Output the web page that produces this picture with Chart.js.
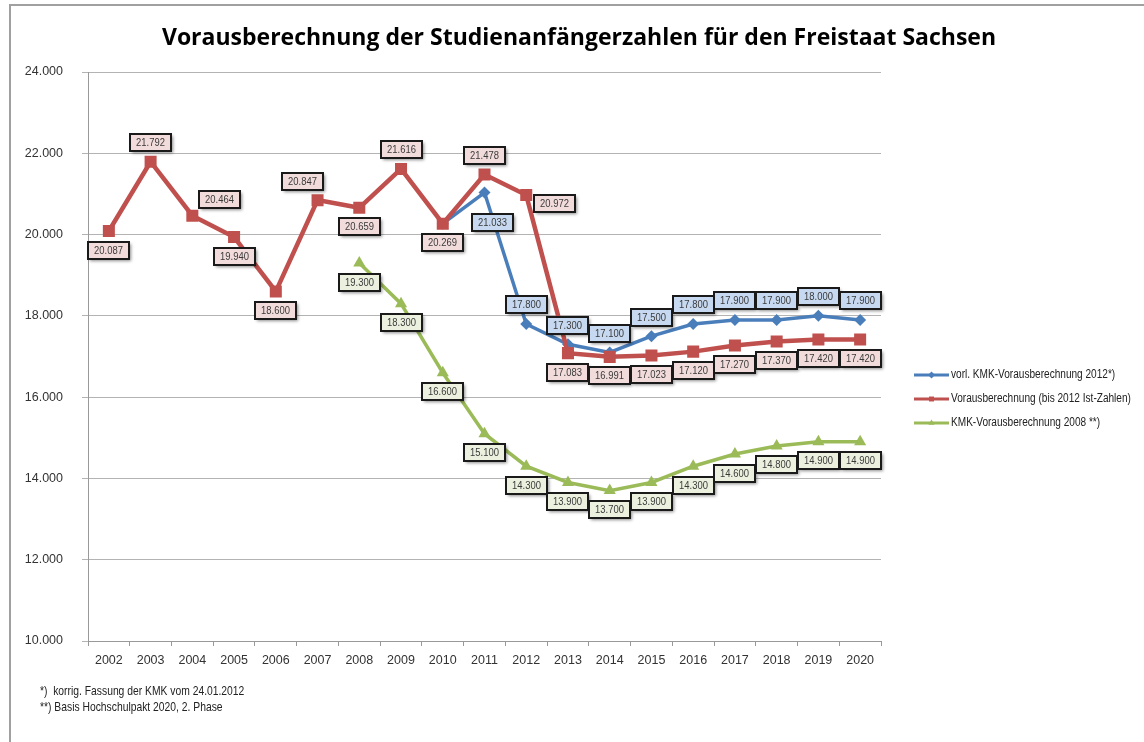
<!DOCTYPE html>
<html>
<head>
<meta charset="utf-8">
<script src="https://cdn.jsdelivr.net/npm/chart.js@4.4.1/dist/chart.umd.min.js"></script>
<style>
  html, body { margin: 0; padding: 0; background: #fff; }
  #wrap { width: 1144px; height: 742px; position: relative; }
</style>
</head>
<body>
<div id="wrap"><canvas id="c" width="1144" height="742"></canvas></div>
<script>
// ---- data ----
const years = ['2002','2003','2004','2005','2006','2007','2008','2009','2010','2011','2012','2013','2014','2015','2016','2017','2018','2019','2020'];
const kmk2012 = [null, null, null, null, null, null, null, null, 20269, 21033, 17800, 17300, 17100, 17500, 17800, 17900, 17900, 18000, 17900];
const istZahlen = [20087, 21792, 20464, 19940, 18600, 20847, 20659, 21616, 20269, 21478, 20972, 17083, 16991, 17023, 17120, 17270, 17370, 17420, 17420];
const kmk2008 = [null, null, null, null, null, null, 19300, 18300, 16600, 15100, 14300, 13900, 13700, 13900, 14300, 14600, 14800, 14900, 14900];
const yTickValues = [10000, 12000, 14000, 16000, 18000, 20000, 22000, 24000];
const seriesNames = ['vorl. KMK-Vorausberechnung 2012*)', 'Vorausberechnung (bis 2012 Ist-Zahlen)', 'KMK-Vorausberechnung 2008 **)'];
const chartTitle = 'Vorausberechnung der Studienanfängerzahlen für den Freistaat Sachsen';
const footnotes = ['*)  korrig. Fassung der KMK vom 24.01.2012', '**) Basis Hochschulpakt 2020, 2. Phase'];

// ---- label placement (layout only) ----
const bluePlacement  = [null,null,null,null,null,null,null,null,null,'bb','t','t','t','t','t','t','t','t','t'];
const redPlacement   = ['b','t','tr','b','b','tl','b','t','b','t','r','b','b','b','b','b','b','b','b'];
const greenPlacement = [null,null,null,null,null,null,'b','b','b','b','b','b','b','b','b','b','b','b','b'];
const OFFSETS = { b: [0, 19], t: [0, -19], tr: [27, -16], tl: [-15, -19], r: [28, 8], bb: [8, 30] };

const fmt = v => String(Math.round(v)).replace(/\B(?=(\d{3})+(?!\d))/g, '.');

const SANS = '"Liberation Sans", Arial, sans-serif';
const SQUEEZE = 0.82;

function narrowText(ctx, text, x, y, align, size) {
  ctx.save();
  ctx.font = size + 'px ' + SANS;
  ctx.textBaseline = 'middle';
  ctx.textAlign = align;
  ctx.translate(x, y);
  ctx.scale(SQUEEZE, 1);
  ctx.fillText(text, 0, 0);
  ctx.restore();
}

const COLORS = {
  blue: '#4a7ebb', red: '#c0504d', green: '#9bbb59',
  blueFill: '#c6d9f1', redFill: '#f2dcdb', greenFill: '#ebf1de'
};

const decorPlugin = {
  id: 'decor',
  beforeDraw(chart) {
    const ctx = chart.ctx;
    ctx.save();
    ctx.fillStyle = '#fff';
    ctx.fillRect(0, 0, chart.width, chart.height);
    // frame
    ctx.strokeStyle = '#a0a0a0';
    ctx.lineWidth = 2;
    ctx.beginPath();
    ctx.moveTo(10, 760);
    ctx.lineTo(10, 5);
    ctx.lineTo(1160, 5);
    ctx.stroke();
    // title
    ctx.fillStyle = '#000';
    ctx.font = 'bold 23px "Open Sans", sans-serif';
    ctx.textAlign = 'center';
    ctx.textBaseline = 'alphabetic';
    ctx.fillText(chartTitle, 579, 45);
    // footnotes
    ctx.fillStyle = '#222';
    narrowText(ctx, footnotes[0], 40, 692, 'left', 12.6);
    narrowText(ctx, footnotes[1], 40, 708, 'left', 12.6);
    ctx.restore();
  },
  afterDatasetsDraw(chart) {
    const ctx = chart.ctx;
    ctx.save();
    chart.data.datasets.forEach((ds, i) => {
      const meta = chart.getDatasetMeta(i);
      meta.data.forEach((pt, j) => {
        const v = ds.data[j];
        const pl = ds.labelPlacement[j];
        if (v == null || !pl) return;
        const off = OFFSETS[pl];
        const cx = pt.x + off[0], cy = pt.y + off[1];
        const text = fmt(v);
        ctx.font = '11.5px ' + SANS;
        const w = Math.round(ctx.measureText(text).width * SQUEEZE) + 12;
        const h = 17;
        const x0 = Math.round(cx - w / 2), y0 = Math.round(cy - h / 2);
        ctx.shadowColor = 'rgba(0,0,0,0.45)';
        ctx.shadowBlur = 3;
        ctx.shadowOffsetX = 2;
        ctx.shadowOffsetY = 2;
        ctx.fillStyle = ds.labelFill;
        ctx.fillRect(x0, y0, w, h);
        ctx.shadowColor = 'transparent';
        ctx.shadowBlur = 0; ctx.shadowOffsetX = 0; ctx.shadowOffsetY = 0;
        ctx.lineWidth = 2;
        ctx.strokeStyle = '#1a1a1a';
        ctx.strokeRect(x0, y0, w, h);
        ctx.fillStyle = '#3a3a3a';
        narrowText(ctx, text, x0 + w / 2, y0 + h / 2 + 0.5, 'center', 11.5);
      });
    });
    ctx.restore();
  },
  afterDraw(chart) {
    // legend
    const ctx = chart.ctx;
    ctx.save();
    const ys = [375, 399, 423];
    [0, 1, 2].forEach((di, k) => {
      const ds = chart.data.datasets[di];
      const y = ys[k];
      ctx.strokeStyle = ds.borderColor;
      ctx.lineWidth = 3;
      ctx.beginPath();
      ctx.moveTo(914, y);
      ctx.lineTo(949, y);
      ctx.stroke();
      ctx.fillStyle = ds.borderColor;
      Chart.helpers.drawPoint(ctx, { pointStyle: ds.pointStyle, radius: 3.5, borderWidth: 0 }, 931.5, y);
      ctx.fillStyle = '#222';
      narrowText(ctx, seriesNames[di], 951, y, 'left', 12.3);
    });
    ctx.restore();
  }
};

new Chart(document.getElementById('c'), {
  type: 'line',
  data: {
    labels: years,
    datasets: [
      {
        label: seriesNames[0], data: kmk2012, labelPlacement: bluePlacement, labelFill: COLORS.blueFill,
        borderColor: COLORS.blue, backgroundColor: COLORS.blue, borderWidth: 3.5,
        pointStyle: 'rectRot', pointRadius: 6, pointBorderWidth: 0, order: 1, tension: 0
      },
      {
        label: seriesNames[1], data: istZahlen, labelPlacement: redPlacement, labelFill: COLORS.redFill,
        borderColor: COLORS.red, backgroundColor: COLORS.red, borderWidth: 4.5,
        pointStyle: 'rect', pointRadius: 8.5, pointBorderWidth: 0, order: 0, tension: 0
      },
      {
        label: seriesNames[2], data: kmk2008, labelPlacement: greenPlacement, labelFill: COLORS.greenFill,
        borderColor: COLORS.green, backgroundColor: COLORS.green, borderWidth: 3.5,
        pointStyle: 'triangle', pointRadius: 7, pointBorderWidth: 0, order: 2, tension: 0
      }
    ]
  },
  options: {
    responsive: false,
    animation: false,
    spanGaps: false,
    layout: { padding: { top: 72, left: 0, right: 263, bottom: 61 } },
    plugins: { legend: { display: false }, title: { display: false }, tooltip: { enabled: false } },
    scales: {
      x: {
        offset: true,
        afterFit: s => { s.height = 40; },
        grid: { display: true, drawOnChartArea: false, drawTicks: true, tickLength: 5, color: '#999', offset: true },
        border: { display: true, color: '#999', width: 1 },
        ticks: { color: '#333', font: { family: SANS, size: 12.5 }, padding: 7, maxRotation: 0, autoSkip: false }
      },
      y: {
        min: 10000, max: 24000,
        afterFit: s => { s.width = 88; },
        afterBuildTicks: s => { s.ticks = yTickValues.map(v => ({ value: v })); },
        grid: { color: '#b3b3b3', lineWidth: 1, drawTicks: true, tickLength: 6 },
        border: { display: true, color: '#999', width: 1 },
        ticks: { color: '#333', font: { family: SANS, size: 12.5 }, padding: 19, callback: v => fmt(v) }
      }
    }
  },
  plugins: [decorPlugin]
});
</script>
</body>
</html>
